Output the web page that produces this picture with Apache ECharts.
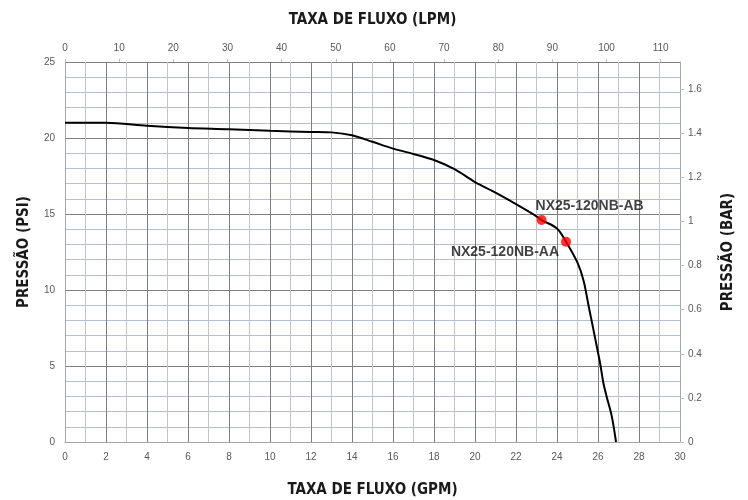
<!DOCTYPE html>
<html>
<head>
<meta charset="utf-8">
<script src="https://cdn.jsdelivr.net/npm/echarts@6/dist/echarts.min.js"></script>
<style>html,body{margin:0;padding:0;background:#fff}#c{width:748px;height:500px}</style>
</head>
<body>
<div id="c"></div>
<script>
// Flow (GPM) vs pressure (PSI) curve
var curveGpm = [0, 2, 4, 6, 8, 10, 12, 13, 14, 15, 16, 17, 18, 19, 20, 21, 22, 23, 23.25, 24, 24.44, 25, 25.3, 25.55, 25.85, 26.1, 26.26, 26.42, 26.67, 26.88];
var curvePsi = [21.0, 21.0, 20.8, 20.66, 20.58, 20.47, 20.4, 20.37, 20.18, 19.75, 19.3, 18.95, 18.55, 17.95, 17.1, 16.4, 15.65, 14.85, 14.6, 14.05, 13.18, 11.8, 10.6, 8.9, 6.9, 5.2, 3.9, 3.0, 1.7, 0];
var pointNames = ['NX25-120NB-AB', 'NX25-120NB-AA'];
var pointGpm = [23.25, 24.44];
var pointPsi = [14.6, 13.18];
var gpmTicks = {min: 0, max: 30, interval: 2};
var psiTicks = {min: 0, max: 25, interval: 5};
var lpmMax = 30 * 3.78541;
var barMax = 25 / 14.5038;

var titleFont = {fontFamily: '"Liberation Sans Narrow","DejaVu Sans Condensed",sans-serif', fontWeight: 'bold', fontSize: 15, color: '#1a1a1a'};
var tickFont = {fontFamily: '"Liberation Sans","Open Sans",sans-serif', fontSize: 10, color: '#595959'};

var chart = echarts.init(document.getElementById('c'));
chart.setOption({
  animation: false,
  grid: {left: 65, right: 68, top: 62, bottom: 58, containLabel: false, outerBoundsMode: 'none'},
  xAxis: [{
    type: 'value', position: 'bottom', min: gpmTicks.min, max: gpmTicks.max, interval: gpmTicks.interval,
    name: 'TAXA DE FLUXO (GPM)', nameLocation: 'middle', nameGap: 41, nameTextStyle: titleFont,
    axisLine: {show: true, onZero: false, lineStyle: {color: '#a6a6a6', width: 1}},
    axisTick: {show: false},
    axisLabel: Object.assign({margin: 10}, tickFont),
    splitLine: {show: true, lineStyle: {color: '#7f7f7f', width: 1}},
    minorTick: {show: false, splitNumber: 2},
    minorSplitLine: {show: true, lineStyle: {color: '#c4c4c4', width: 1}}
  }, {
    type: 'value', position: 'top', min: 0, max: lpmMax, interval: 10,
    name: 'TAXA DE FLUXO (LPM)', nameLocation: 'middle', nameGap: 34, nameTextStyle: titleFont,
    axisLine: {show: false, onZero: false},
    axisTick: {show: true, length: 3, lineStyle: {color: '#bfbfbf'}},
    axisLabel: Object.assign({margin: 9, showMaxLabel: false}, tickFont),
    splitLine: {show: false}
  }],
  yAxis: [{
    type: 'value', position: 'left', min: psiTicks.min, max: psiTicks.max, interval: psiTicks.interval,
    name: 'PRESSÃO (PSI)', nameLocation: 'middle', nameGap: 33, nameRotate: 90, nameTextStyle: titleFont,
    axisLine: {show: true, onZero: false, lineStyle: {color: '#a6a6a6', width: 1}},
    axisTick: {show: false},
    axisLabel: Object.assign({margin: 10}, tickFont),
    splitLine: {show: true, lineStyle: {color: '#7f7f7f', width: 1}},
    minorTick: {show: false, splitNumber: 5},
    minorSplitLine: {show: true, lineStyle: {color: '#b4bfd4', width: 1}}
  }, {
    type: 'value', position: 'right', min: 0, max: barMax, interval: 0.2,
    name: 'PRESSÃO (BAR)', nameLocation: 'middle', nameGap: 41, nameRotate: 90, nameTextStyle: titleFont,
    axisLine: {show: true, onZero: false, lineStyle: {color: '#a6a6a6', width: 1}},
    axisTick: {show: true, length: 4, lineStyle: {color: '#bfbfbf'}},
    axisLabel: Object.assign({margin: 8, showMaxLabel: false}, tickFont),
    splitLine: {show: false}
  }],
  series: [{
    type: 'line', xAxisIndex: 0, yAxisIndex: 0,
    data: curveGpm.map(function (g, i) { return [g, curvePsi[i]]; }),
    smooth: 0.3, showSymbol: false, symbol: 'none',
    lineStyle: {color: '#000', width: 2},
    z: 3
  }, {
    type: 'scatter', xAxisIndex: 0, yAxisIndex: 0,
    data: pointGpm.map(function (g, i) {
      return {
        value: [g, pointPsi[i]], name: pointNames[i],
        label: i === 0
          ? {show: true, position: 'top', offset: [48, 3]}
          : {show: true, position: 'left', offset: [3, 10]}
      };
    }),
    symbolSize: 10,
    itemStyle: {color: '#ff0000'},
    label: {formatter: '{b}', fontFamily: '"Liberation Sans",Arial,sans-serif', fontWeight: 'bold', fontSize: 14, color: '#111'},
    z: 4
  }]
});
</script>
</body>
</html>
